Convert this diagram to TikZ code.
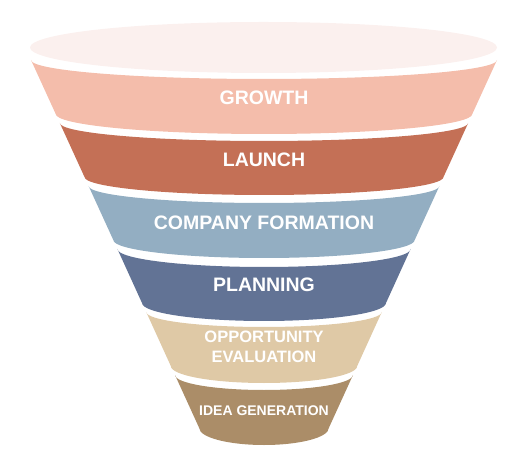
\documentclass[tikz,border=0pt]{standalone}
\usepackage{fontspec}
\setmainfont{Liberation Sans}
\usepackage{xcolor}
\usepackage{tikz}
\usetikzlibrary{positioning}

\definecolor{rimcol}{HTML}{FBF0EE}
\definecolor{growthcol}{HTML}{F4BDAB}
\definecolor{launchcol}{HTML}{C47056}
\definecolor{companycol}{HTML}{93AEC2}
\definecolor{planningcol}{HTML}{627395}
\definecolor{oppcol}{HTML}{DFC9A6}
\definecolor{ideacol}{HTML}{AB8D68}

\begin{document}
\begin{tikzpicture}[x=1pt, y=1pt,
        lbl/.style={text=white, inner sep=0pt, align=center,
            font=\bfseries\fontsize{19.5}{23}\selectfont}]
        \useasboundingbox (0,0) rectangle (529,471);

        % rim of the funnel
        \fill[rimcol] (263.5,423.5) ellipse (233.5pt and 25.5pt);

        % bands, top to bottom
        \fill[growthcol] (31,411) -- (55.7,357)
            arc[start angle=180, end angle=360, x radius=208.3pt, y radius=20pt]
            -- (497,411)
            arc[start angle=0, end angle=-180, x radius=233pt, y radius=19pt] -- cycle;
        \fill[launchcol] (59.8,348) -- (84.5,294)
            arc[start angle=180, end angle=360, x radius=179.5pt, y radius=18pt]
            -- (468.2,348)
            arc[start angle=0, end angle=-180, x radius=204.2pt, y radius=18pt] -- cycle;
        \fill[companycol] (88.6,285) -- (113.3,231)
            arc[start angle=180, end angle=360, x radius=150.7pt, y radius=18pt]
            -- (439.4,285)
            arc[start angle=0, end angle=-180, x radius=175.4pt, y radius=17pt] -- cycle;
        \fill[planningcol] (117.4,222) -- (142,168)
            arc[start angle=180, end angle=360, x radius=122pt, y radius=18pt]
            -- (410.6,222)
            arc[start angle=0, end angle=-180, x radius=146.6pt, y radius=18pt] -- cycle;
        \fill[oppcol] (146.2,159) -- (170.8,105)
            arc[start angle=180, end angle=360, x radius=93.2pt, y radius=17pt]
            -- (381.8,159)
            arc[start angle=0, end angle=-180, x radius=117.8pt, y radius=15pt] -- cycle;
        \fill[ideacol] (175,96) -- (199.2,43)
            arc[start angle=180, end angle=360, x radius=64.8pt, y radius=17pt]
            -- (353,96)
            arc[start angle=0, end angle=-180, x radius=89pt, y radius=15pt] -- cycle;

        % labels
        \node[lbl] (growth) at (264,373) {GROWTH};
        \node[lbl] (launch) at (264,311) {LAUNCH};
        \node[lbl] (company) at (264,248.5) {COMPANY FORMATION};
        \node[lbl] (planning) at (264,186.5) {PLANNING};
        \node[lbl, font=\bfseries\fontsize{16.5}{20}\selectfont] (opp) at (264,124)
            {OPPORTUNITY\\EVALUATION};
        \node[lbl, font=\bfseries\fontsize{14}{17}\selectfont] (idea) at (264,60.5)
            {IDEA GENERATION};

    \end{tikzpicture}
\end{document}
